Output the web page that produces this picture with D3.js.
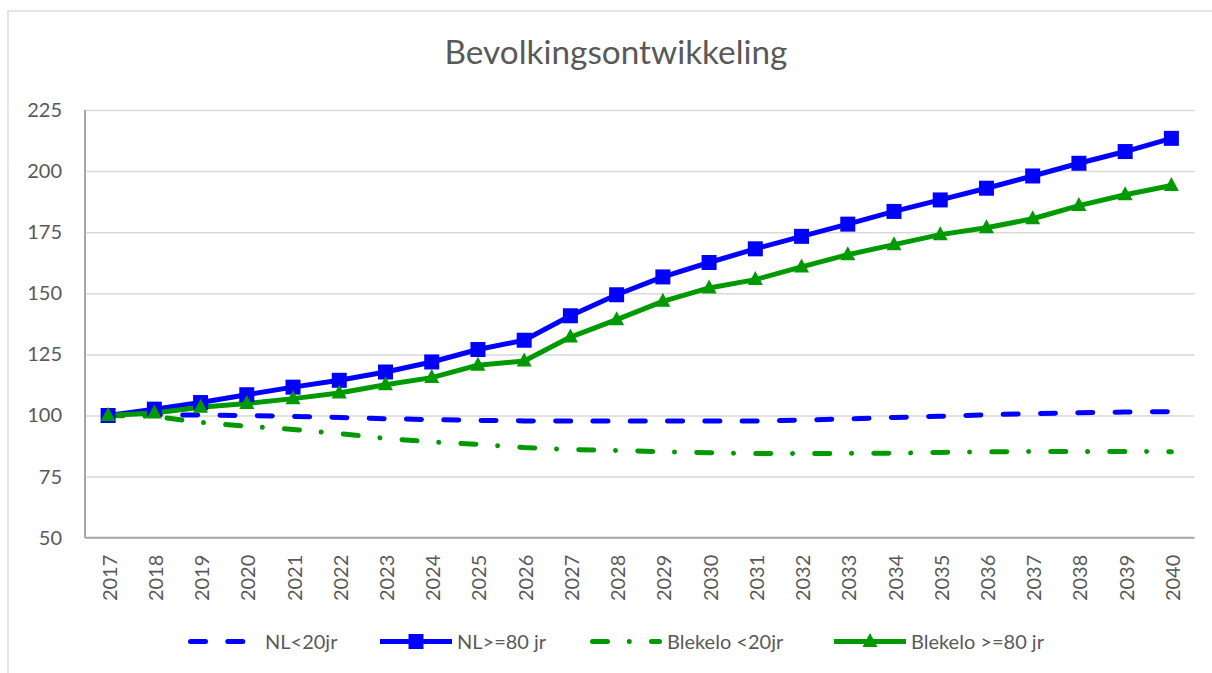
<!DOCTYPE html>
<html>
<head>
<meta charset="utf-8">
<script src="https://cdn.jsdelivr.net/npm/d3@7"></script>
<style>
  html, body { margin: 0; padding: 0; background: #ffffff; }
  svg { display: block; }
  text { font-family: Lato, "Open Sans", sans-serif; fill: #595959; }
</style>
</head>
<body>
<svg id="chart" width="1212" height="673"></svg>
<script>
const title = "Bevolkingsontwikkeling";
const years = ["2017","2018","2019","2020","2021","2022","2023","2024","2025","2026","2027","2028",
               "2029","2030","2031","2032","2033","2034","2035","2036","2037","2038","2039","2040"];
const yTicks = [50, 75, 100, 125, 150, 175, 200, 225];

const nlUnder20 = [100, 100.3, 100.2, 100, 99.6, 99.2, 98.7, 98.3, 98.0, 97.8, 97.7, 97.7,
                   97.7, 97.7, 97.7, 98.1, 98.6, 99.2, 99.7, 100.3, 100.8, 101.1, 101.4, 101.6];
const nlOver80 = [100, 102.6, 105.3, 108.5, 111.6, 114.4, 117.8, 121.9, 127.0, 130.8, 140.8, 149.4,
                  156.7, 162.6, 168.2, 173.3, 178.3, 183.5, 188.2, 193.0, 198.0, 203.2, 208.0, 213.4];
const blekUnder20 = [100, 99.6, 97.2, 95.6, 94.3, 92.6, 90.6, 89.2, 88.2, 86.9, 86.1, 85.7,
                     85.2, 84.8, 84.4, 84.5, 84.5, 84.6, 84.9, 85.1, 85.3, 85.3, 85.3, 85.2];
const blekOver80 = [100, 101.0, 103.4, 104.9, 106.9, 109.2, 112.6, 115.5, 120.6, 122.3, 132.1, 139.2,
                    146.7, 152.2, 155.6, 160.8, 165.8, 169.9, 174.0, 176.8, 180.5, 185.9, 190.3, 194.1];

const seriesNames = ["NL<20jr", "NL>=80 jr", "Blekelo <20jr", "Blekelo >=80 jr"];

const BLUE = "#0000ff", GREEN = "#009900";
const series = [
  {name: seriesNames[0], values: nlUnder20, color: BLUE, dash: "15 22.3", marker: null},
  {name: seriesNames[1], values: nlOver80, color: BLUE, dash: null, marker: "square"},
  {name: seriesNames[2], values: blekUnder20, color: GREEN, dash: "15 21.8 0.01 22.2", marker: null},
  {name: seriesNames[3], values: blekOver80, color: GREEN, dash: null, marker: "triangle"}
];

const svg = d3.select("#chart");
const W = 1212, H = 673;
const plot = {left: 85, right: 1194.5, top: 110, bottom: 537.7};

// outer frame
svg.append("rect").attr("x", 8).attr("y", 11).attr("width", W + 10).attr("height", H + 10)
  .attr("fill", "#fff").attr("stroke", "#d9d9d9").attr("stroke-width", 1.3);

const x = d3.scalePoint().domain(years).range([plot.left, plot.right]).padding(0.5);
const y = d3.scaleLinear().domain([50, 225]).range([plot.bottom, plot.top]);

// gridlines
const yAxis = d3.axisLeft(y).tickValues(yTicks).tickSize(-(plot.right - plot.left)).tickPadding(23);
const gy = svg.append("g").attr("transform", `translate(${plot.left},0)`).call(yAxis);
gy.select(".domain").remove();
gy.selectAll(".tick line").attr("stroke", "#d9d9d9").attr("stroke-width", 1.5);
gy.selectAll(".tick text").attr("font-size", 20).attr("fill", "#595959")
  .style("font-family", "Lato, sans-serif");
gy.selectAll(".tick").filter(d => d === 50).select("line").remove();

// axes lines
svg.append("line").attr("x1", plot.left).attr("x2", plot.left).attr("y1", plot.top).attr("y2", plot.bottom)
  .attr("stroke", "#a6a6a6").attr("stroke-width", 2);

const xAxis = d3.axisBottom(x).tickSize(0).tickPadding(0);
const gx = svg.append("g").attr("transform", `translate(0,${plot.bottom})`).call(xAxis);
gx.select(".domain").attr("stroke", "#a6a6a6").attr("stroke-width", 2)
  .attr("d", `M${plot.left},0H${plot.right}`);
gx.selectAll(".tick text")
  .attr("font-size", 20)
  .style("font-family", "Lato, sans-serif")
  .attr("fill", "#595959")
  .attr("text-anchor", "end")
  .attr("transform", "rotate(-90)")
  .attr("x", -17).attr("y", 1).attr("dy", "0.35em");

// lines
const line = d3.line().x((d, i) => x(years[i])).y(d => y(d));
const gLines = svg.append("g");
series.forEach(s => {
  gLines.append("path").datum(s.values)
    .attr("d", line)
    .attr("fill", "none")
    .attr("stroke", s.color)
    .attr("stroke-width", 5)
    .attr("stroke-linejoin", "round")
    .attr("stroke-linecap", s.dash ? "round" : "butt")
    .attr("stroke-dasharray", s.dash);
});

function drawMarker(g, type, cx, cy, color) {
  if (type === "square") {
    g.append("rect").attr("x", cx - 7.5).attr("y", cy - 7.5).attr("width", 15).attr("height", 15)
      .attr("fill", color);
  } else if (type === "triangle") {
    g.append("path").attr("d", `M${cx},${cy - 8.5}L${cx + 7.5},${cy + 5.5}L${cx - 7.5},${cy + 5.5}Z`)
      .attr("fill", color);
  }
}
series.forEach(s => {
  if (!s.marker) return;
  const g = svg.append("g");
  s.values.forEach((v, i) => drawMarker(g, s.marker, x(years[i]), y(v), s.color));
});

// title
const t = svg.append("text").attr("x", 616).attr("y", 63.5).attr("text-anchor", "middle")
  .attr("font-size", 28).text(title);
const tw = t.node().getComputedTextLength();
t.attr("font-size", 28 * 343 / tw);

// legend
const legendItems = [
  {s: series[0], x0: 188},
  {s: series[1], x0: 380},
  {s: series[2], x0: 590},
  {s: series[3], x0: 834}
];
const ly = 641.5;
legendItems.forEach(it => {
  const g = svg.append("g");
  const len = 72;
  g.append("line").attr("x1", it.x0 + (it.s.dash ? 2.5 : 0)).attr("x2", it.x0 + len - (it.s.dash ? 2.5 : 0))
    .attr("y1", ly).attr("y2", ly)
    .attr("stroke", it.s.color).attr("stroke-width", 5)
    .attr("stroke-linecap", it.s.dash ? "round" : "butt")
    .attr("stroke-dasharray", it.s.dash);
  if (it.s.marker) drawMarker(g, it.s.marker, it.x0 + len / 2, ly, it.s.color);
  g.append("text").attr("x", it.x0 + len + 5).attr("y", ly).attr("dy", "0.35em")
    .attr("font-size", 20).text(it.s.name);
});
</script>
</body>
</html>
